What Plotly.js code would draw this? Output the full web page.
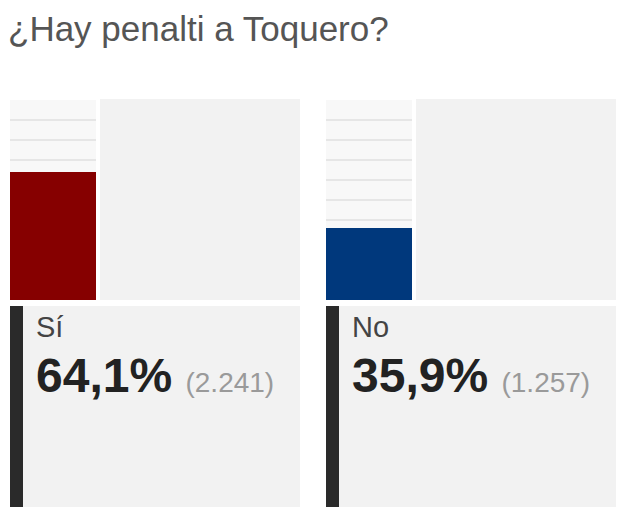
<!DOCTYPE html>
<html>
<head>
<meta charset="utf-8">
<script src="https://cdn.plot.ly/plotly-3.0.1.min.js"></script>
<style>html,body{margin:0;padding:0;background:#fff;}#chart{width:632px;height:526px;}</style>
</head>
<body>
<div id="chart"></div>
<script>
// ---- data ----
const title = "¿Hay penalti a Toquero?";
const options = ["Sí", "No"];
const percents = [64.1, 35.9];
const percentLabels = ["64,1%", "35,9%"];
const votes = ["2.241", "1.257"];
const barColors = ["#860000", "#00387c"];

// ---- helpers (pixel -> paper) ----
const W = 632, H = 526;
const px = x => x / W;
const py = y => 1 - y / H;

const colLeft = [10, 326];          // left edge of bar column per panel
const colW = 86;
const grayRight = [300, 616];
const chartTop = 100, chartBottom = 300;
const boxTop = 306, boxBottom = 507;

const traces = options.map((o, i) => ({
  type: 'bar',
  x: [o],
  y: [percents[i]],
  xaxis: i === 0 ? 'x' : 'x2',
  yaxis: i === 0 ? 'y' : 'y2',
  marker: {color: barColors[i], line: {width: 0}},
  width: 1,
  hoverinfo: 'skip',
  showlegend: false
}));

const shapes = [];
const annotations = [];
options.forEach((o, i) => {
  const L = colLeft[i];
  shapes.push({type: 'rect', xref: 'paper', yref: 'paper', layer: 'below',
    x0: px(L + colW + 4), x1: px(grayRight[i]), y0: py(chartBottom), y1: py(chartTop - 1),
    fillcolor: '#f2f2f2', line: {width: 0}});
  shapes.push({type: 'rect', xref: 'paper', yref: 'paper', layer: 'below',
    x0: px(L + 13), x1: px(grayRight[i]), y0: py(boxBottom), y1: py(boxTop),
    fillcolor: '#f2f2f2', line: {width: 0}});
  shapes.push({type: 'rect', xref: 'paper', yref: 'paper', layer: 'above',
    x0: px(L), x1: px(L + 13), y0: py(boxBottom), y1: py(boxTop),
    fillcolor: '#2a2a2a', line: {width: 0}});
  annotations.push({xref: 'paper', yref: 'paper', x: px(L + 24), y: py(327),
    xanchor: 'left', yanchor: 'middle', showarrow: false, text: o,
    font: {family: 'Liberation Sans, Arial, sans-serif', size: 29, color: '#444'}});
  annotations.push({xref: 'paper', yref: 'paper', x: px(L + 24), y: py(375),
    xanchor: 'left', yanchor: 'middle', showarrow: false,
    text: '<b>' + percentLabels[i] + '</b> <span style="font-size:28px;color:#9a9a9a">(' + votes[i] + ')</span>',
    font: {family: 'Liberation Sans, Arial, sans-serif', size: 48, color: '#222'}});
});

const yax = () => ({domain: [py(chartBottom), py(chartTop)], range: [0, 100], dtick: 10,
  showgrid: true, gridcolor: '#e6e6e6', gridwidth: 2, zeroline: false,
  showticklabels: false, ticks: '', showline: false, fixedrange: true});
const xax = i => ({domain: [px(colLeft[i]), px(colLeft[i] + colW)], range: [-0.5, 0.5],
  type: 'category', showgrid: false, zeroline: false, showticklabels: false, ticks: '',
  showline: false, fixedrange: true});

const layout = {
  width: W, height: H,
  margin: {l: 0, r: 0, t: 0, b: 0},
  paper_bgcolor: '#ffffff',
  plot_bgcolor: '#f8f8f8',
  bargap: 0,
  title: {text: title, x: px(8), xanchor: 'left', xref: 'paper',
    y: py(29), yref: 'paper', yanchor: 'middle',
    font: {family: 'Liberation Sans, Arial, sans-serif', size: 35, color: '#555'}},
  xaxis: Object.assign(xax(0), {anchor: 'y'}),
  yaxis: Object.assign(yax(), {anchor: 'x'}),
  xaxis2: Object.assign(xax(1), {anchor: 'y2'}),
  yaxis2: Object.assign(yax(), {anchor: 'x2'}),
  shapes: shapes,
  annotations: annotations
};

Plotly.newPlot('chart', traces, layout, {displayModeBar: false, staticPlot: true});
</script>
</body>
</html>
